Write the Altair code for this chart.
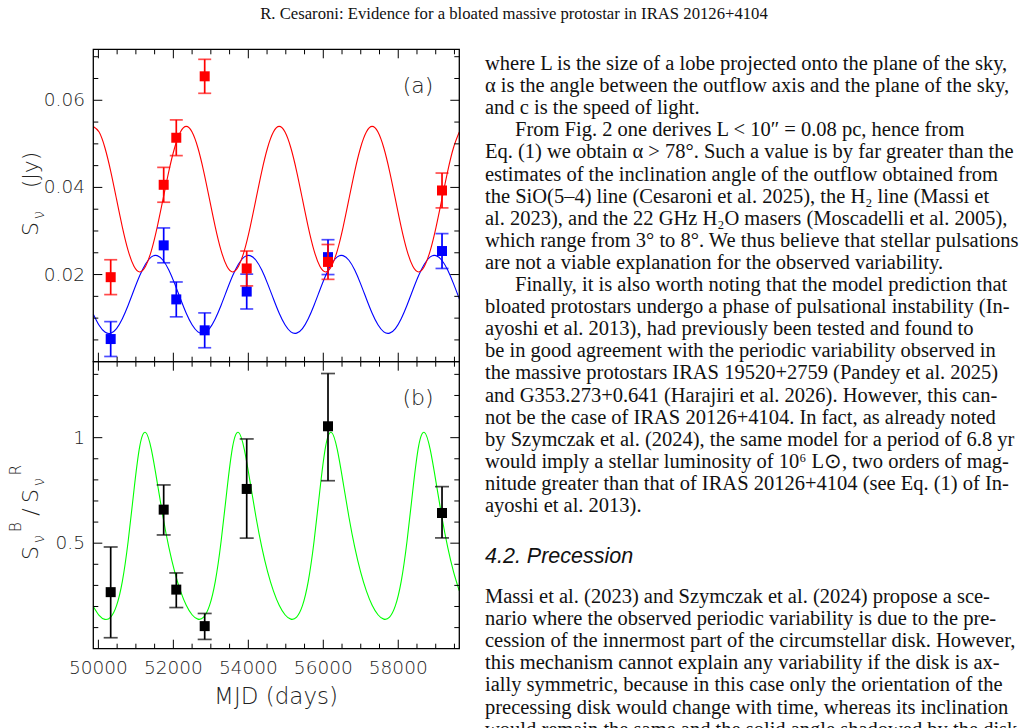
import altair as alt
import pandas as pd

# ---------------- data ----------------
obs_mjd = [50328, 51742, 52078, 52836, 53957, 56126, 59168]
red_flux = [0.0194, 0.0406, 0.0514, 0.0655, 0.0214, 0.0229, 0.0393]
red_err = [0.0040, 0.0040, 0.0041, 0.0039, 0.0040, 0.0040, 0.0040]
blue_flux = [0.0052, 0.0267, 0.0143, 0.0072, 0.0161, 0.0240, 0.0254]
blue_err = [0.0040, 0.0040, 0.0040, 0.0040, 0.0040, 0.0040, 0.0040]
ratio_val = [0.268, 0.659, 0.280, 0.107, 0.757, 1.054, 0.643]
ratio_lo = [0.052, 0.539, 0.195, 0.044, 0.524, 0.796, 0.525]
ratio_hi = [0.482, 0.776, 0.359, 0.167, 0.994, 1.304, 0.768]

model_mjd = [
    49864, 50019, 50174, 50329, 50484, 50639, 50794, 50949, 51104, 51259, 51414, 51569, 51724, 51879, 52034, 52189,
    52344, 52499, 52654, 52809, 52964, 53119, 53274, 53429, 53584, 53739, 53894, 54049, 54204, 54359, 54514, 54669,
    54824, 54979, 55134, 55289, 55444, 55599, 55754, 55909, 56064, 56219, 56374, 56529, 56684, 56839, 56994, 57149,
    57304, 57459, 57614, 57769, 57924, 58079, 58234, 58389, 58544, 58699, 58854, 59009, 59164, 59319, 59474, 59629,
]
red_model = [
    0.0540, 0.0527, 0.0491, 0.0437, 0.0373, 0.0309, 0.0255, 0.0219, 0.0206, 0.0219, 0.0255, 0.0309, 0.0373, 0.0437, 0.0491, 0.0527,
    0.0540, 0.0527, 0.0491, 0.0437, 0.0373, 0.0309, 0.0255, 0.0219, 0.0206, 0.0219, 0.0255, 0.0309, 0.0373, 0.0437, 0.0491, 0.0527,
    0.0540, 0.0527, 0.0491, 0.0437, 0.0373, 0.0309, 0.0255, 0.0219, 0.0206, 0.0219, 0.0255, 0.0309, 0.0373, 0.0437, 0.0491, 0.0527,
    0.0540, 0.0527, 0.0491, 0.0437, 0.0373, 0.0309, 0.0255, 0.0219, 0.0206, 0.0219, 0.0255, 0.0309, 0.0373, 0.0437, 0.0491, 0.0527,
]
blue_model = [
    0.01090, 0.00835, 0.00680, 0.00654, 0.00761, 0.00987, 0.01297, 0.01645, 0.01978, 0.02244, 0.02405, 0.02434, 0.02329, 0.02103, 0.01793, 0.01445,
    0.01112, 0.00846, 0.00685, 0.00656, 0.00761, 0.00987, 0.01297, 0.01645, 0.01978, 0.02244, 0.02405, 0.02434, 0.02329, 0.02103, 0.01793, 0.01445,
    0.01112, 0.00846, 0.00685, 0.00656, 0.00761, 0.00987, 0.01297, 0.01645, 0.01978, 0.02244, 0.02405, 0.02434, 0.02329, 0.02103, 0.01793, 0.01445,
    0.01112, 0.00846, 0.00685, 0.00656, 0.00761, 0.00987, 0.01297, 0.01645, 0.01978, 0.02244, 0.02405, 0.02434, 0.02329, 0.02103, 0.01793, 0.01445,
]
ratio_model = [
    0.200, 0.158, 0.139, 0.150, 0.204, 0.319, 0.509, 0.751, 0.960, 1.025, 0.943, 0.788, 0.624, 0.481, 0.365, 0.274,
    0.206, 0.161, 0.140, 0.150, 0.204, 0.319, 0.509, 0.751, 0.960, 1.025, 0.943, 0.788, 0.624, 0.481, 0.365, 0.274,
    0.206, 0.161, 0.140, 0.150, 0.204, 0.319, 0.509, 0.751, 0.960, 1.025, 0.943, 0.788, 0.624, 0.481, 0.365, 0.274,
    0.206, 0.161, 0.140, 0.150, 0.204, 0.319, 0.509, 0.751, 0.960, 1.025, 0.943, 0.788, 0.624, 0.481, 0.365, 0.274,
]

x_major = [50000, 52000, 54000, 56000, 58000]
x_labels = ["50000", "52000", "54000", "56000", "58000"]
x_minor = [50500, 51000, 51500, 52500, 53000, 53500, 54500, 55000, 55500, 56500, 57000, 57500, 58500, 59000, 59500]
ya_major = [0.02, 0.04, 0.06]
ya_labels = ["0.02", "0.04", "0.06"]
ya_minor = [0.005, 0.010, 0.015, 0.025, 0.030, 0.035, 0.045, 0.050, 0.055, 0.065, 0.070]
yb_major = [0.5, 1.0]
yb_labels = ["0.5", "1"]
yb_minor = [0.1, 0.2, 0.3, 0.4, 0.6, 0.7, 0.8, 0.9, 1.1, 1.2, 1.3]

header = "R. Cesaroni:  Evidence for a bloated massive protostar in IRAS 20126+4104"
body1 = [
    "where L is the size of a lobe projected onto the plane of the sky,",
    "α is the angle between the outflow axis and the plane of the sky,",
    "and c is the speed of light.",
    "From Fig. 2 one derives L < 10″ = 0.08 pc, hence from",
    "Eq. (1) we obtain α > 78°. Such a value is by far greater than the",
    "estimates of the inclination angle of the outflow obtained from",
    "the SiO(5–4) line (Cesaroni et al. 2025), the H₂ line (Massi et",
    "al. 2023), and the 22 GHz H₂O masers (Moscadelli et al. 2005),",
    "which range from 3° to 8°. We thus believe that stellar pulsations",
    "are not a viable explanation for the observed variability.",
    "Finally, it is also worth noting that the model prediction that",
    "bloated protostars undergo a phase of pulsational instability (In-",
    "ayoshi et al. 2013), had previously been tested and found to",
    "be in good agreement with the periodic variability observed in",
    "the massive protostars IRAS 19520+2759 (Pandey et al. 2025)",
    "and G353.273+0.641 (Harajiri et al. 2026). However, this can-",
    "not be the case of IRAS 20126+4104. In fact, as already noted",
    "by Szymczak et al. (2024), the same model for a period of 6.8 yr",
    "would imply a stellar luminosity of 10⁶ L⊙, two orders of mag-",
    "nitude greater than that of IRAS 20126+4104 (see Eq. (1) of In-",
    "ayoshi et al. 2013).",
]
body1_para = [0, 0, 0, 1, 0, 0, 0, 0, 0, 0, 1, 0, 0, 0, 0, 0, 0, 0, 0, 0, 0]
heading = "4.2. Precession"
body2 = [
    "Massi et al. (2023) and Szymczak et al. (2024) propose a sce-",
    "nario where the observed periodic variability is due to the pre-",
    "cession of the innermost part of the circumstellar disk. However,",
    "this mechanism cannot explain any variability if the disk is ax-",
    "ially symmetric, because in this case only the orientation of the",
    "precessing disk would change with time, whereas its inclination",
    "would remain the same and the solid angle shadowed by the disk",
]

# ---------------- layout ----------------
SANS = "DejaVu Sans"
SERIF = "Liberation Serif"
L, R, TA, MID, BB = 93.3, 459.3, 49.3, 361.7, 648.7
TX0, TIND = 485, 515
BODY = 20.5
X = alt.Scale(domain=[49864, 59629], range=[L, R], nice=False, zero=False)
YA = alt.Scale(domain=[0.0, 0.0717], range=[MID, TA], nice=False, zero=False)
YB = alt.Scale(domain=[0.0, 1.36], range=[BB, MID], nice=False, zero=False)

model = pd.DataFrame({"mjd": model_mjd, "red": red_model, "blue": blue_model, "ratio": ratio_model})
obs = pd.DataFrame({
    "mjd": obs_mjd, "red": red_flux, "rerr": red_err, "blue": blue_flux, "berr": blue_err,
    "ratio": ratio_val, "qlo": ratio_lo, "qhi": ratio_hi,
})
obs["rlo"] = obs["red"] - obs["rerr"]
obs["rhi"] = obs["red"] + obs["rerr"]
obs["blo"] = obs["blue"] - obs["berr"]
obs["bhi"] = obs["blue"] + obs["berr"]

def xe(field="mjd"):
    return alt.X(f"{field}:Q", scale=X, axis=None)

def ye(field, sc):
    return alt.Y(f"{field}:Q", scale=sc, axis=None)

layers = []

def curve(field, sc, color):
    return alt.Chart(model).mark_line(color=color, strokeWidth=1.1, interpolate="natural").encode(
        x=xe(), y=ye(field, sc))

def points(val, lo, hi, sc, color, cap):
    base = alt.Chart(obs)
    return [
        base.mark_rule(color=color, strokeWidth=1.7).encode(x=xe(), y=ye(lo, sc), y2=f"{hi}:Q"),
        base.mark_tick(color=color, orient="horizontal", size=cap, thickness=1.7).encode(x=xe(), y=ye(lo, sc)),
        base.mark_tick(color=color, orient="horizontal", size=cap, thickness=1.7).encode(x=xe(), y=ye(hi, sc)),
        base.mark_square(color=color, size=100, filled=True, opacity=1).encode(x=xe(), y=ye(val, sc)),
    ]

layers.append(curve("blue", YA, "#0000ff"))
layers.append(curve("red", YA, "#ff0000"))
layers.append(curve("ratio", YB, "#00ff00"))
layers += points("blue", "blo", "bhi", YA, "#0000ff", 13)
layers += points("red", "rlo", "rhi", YA, "#ff0000", 13)
layers += points("ratio", "qlo", "qhi", YB, "#000000", 14)

# frames
one = pd.DataFrame({"a": [0]})
for top, bot in [(TA, MID), (MID, BB)]:
    layers.append(alt.Chart(one).mark_rect(filled=False, stroke="black", strokeWidth=1.3).encode(
        x=alt.value(L), x2=alt.value(R), y=alt.value(top), y2=alt.value(bot)))

MAJ, MIN = 9, 5

def xticks(vals, ybase, d, ln):
    return alt.Chart(pd.DataFrame({"v": vals})).mark_rule(color="black", strokeWidth=1).encode(
        x=xe("v"), y=alt.value(ybase), y2=alt.value(ybase + d * ln))

def yticks(vals, sc, xbase, d, ln):
    return alt.Chart(pd.DataFrame({"v": vals})).mark_rule(color="black", strokeWidth=1).encode(
        y=ye("v", sc), x=alt.value(xbase), x2=alt.value(xbase + d * ln))

for ybase, d in [(TA, 1), (MID, -1), (MID, 1), (BB, -1)]:
    layers.append(xticks(x_major, ybase, d, MAJ))
    layers.append(xticks(x_minor, ybase, d, MIN))
for vals, sc, ln in [(ya_major, YA, MAJ), (ya_minor, YA, MIN), (yb_major, YB, MAJ), (yb_minor, YB, MIN)]:
    layers.append(yticks(vals, sc, L, 1, ln))
    layers.append(yticks(vals, sc, R, -1, ln))

# tick labels
layers.append(alt.Chart(pd.DataFrame({"v": x_major, "t": x_labels})).mark_text(
    font=SANS, fontSize=18.5, fontWeight=300, align="center", baseline="middle", color="#222").encode(
    x=xe("v"), y=alt.value(668), text="t:N"))
for vals, labs, sc in [(ya_major, ya_labels, YA), (yb_major, yb_labels, YB)]:
    layers.append(alt.Chart(pd.DataFrame({"v": vals, "t": labs})).mark_text(
        font=SANS, fontSize=18.5, fontWeight=300, align="right", baseline="middle", color="#222").encode(
        y=ye("v", sc), x=alt.value(85), text="t:N"))

def label(text, x, y, size, font=SANS, angle=0, align="center", style="normal", weight=300, color="#222"):
    return alt.Chart(pd.DataFrame({"t": [text]})).mark_text(
        font=font, fontSize=size, angle=angle, align=align, baseline="middle",
        fontStyle=style, fontWeight=weight, color=color).encode(
        text="t:N", x=alt.value(x), y=alt.value(y))

layers.append(label("MJD (days)", 276, 697, 23))
layers.append(label("(a)", 418, 86, 22))
layers.append(label("(b)", 418, 398, 22))
# y titles
layers.append(label("S", 31, 229, 22, angle=270))
layers.append(label("ν", 39, 215, 15, angle=270))
layers.append(label("(Jy)", 31, 170, 22, angle=270))
layers.append(label("S", 31, 553, 22, angle=270))
layers.append(label("ν", 39, 539, 15, angle=270))
layers.append(label("B", 16, 527, 15, angle=270))
layers.append(label("/", 31, 512, 22, angle=270))
layers.append(label("S", 31, 496, 22, angle=270))
layers.append(label("ν", 39, 482, 15, angle=270))
layers.append(label("R", 16, 470, 15, angle=270))

# page text
layers.append(label(header, 514, 14, 16.7, font=SERIF, weight="normal", color="#111"))

df1 = pd.DataFrame({"t": body1, "i": list(range(len(body1))), "p": body1_para})
layers.append(alt.Chart(df1).mark_text(
    font=SERIF, fontSize=BODY, align="left", baseline="middle", color="#111").encode(
    text="t:N",
    x=alt.X("p:Q", scale=alt.Scale(domain=[0, 1], range=[TX0, TIND]), axis=None),
    y=alt.Y("i:Q", scale=alt.Scale(domain=[0, 20], range=[64, 506]), axis=None)))

layers.append(label(heading, TX0, 557, 21.5, font="Liberation Sans", style="italic", align="left",
                    weight="normal", color="#111"))

df2 = pd.DataFrame({"t": body2, "i": list(range(len(body2)))})
layers.append(alt.Chart(df2).mark_text(
    font=SERIF, fontSize=BODY, align="left", baseline="middle", color="#111").encode(
    text="t:N", x=alt.value(TX0),
    y=alt.Y("i:Q", scale=alt.Scale(domain=[0, 6], range=[597, 729.6]), axis=None)))

chart = alt.layer(*layers).resolve_scale(x="independent", y="independent").properties(
    width=1028, height=728, padding=0, background="white",
    autosize=alt.AutoSizeParams(type="none"),
).configure_view(strokeWidth=0)

chart.save("out.html", embed_options={"renderer": "svg", "actions": False})
